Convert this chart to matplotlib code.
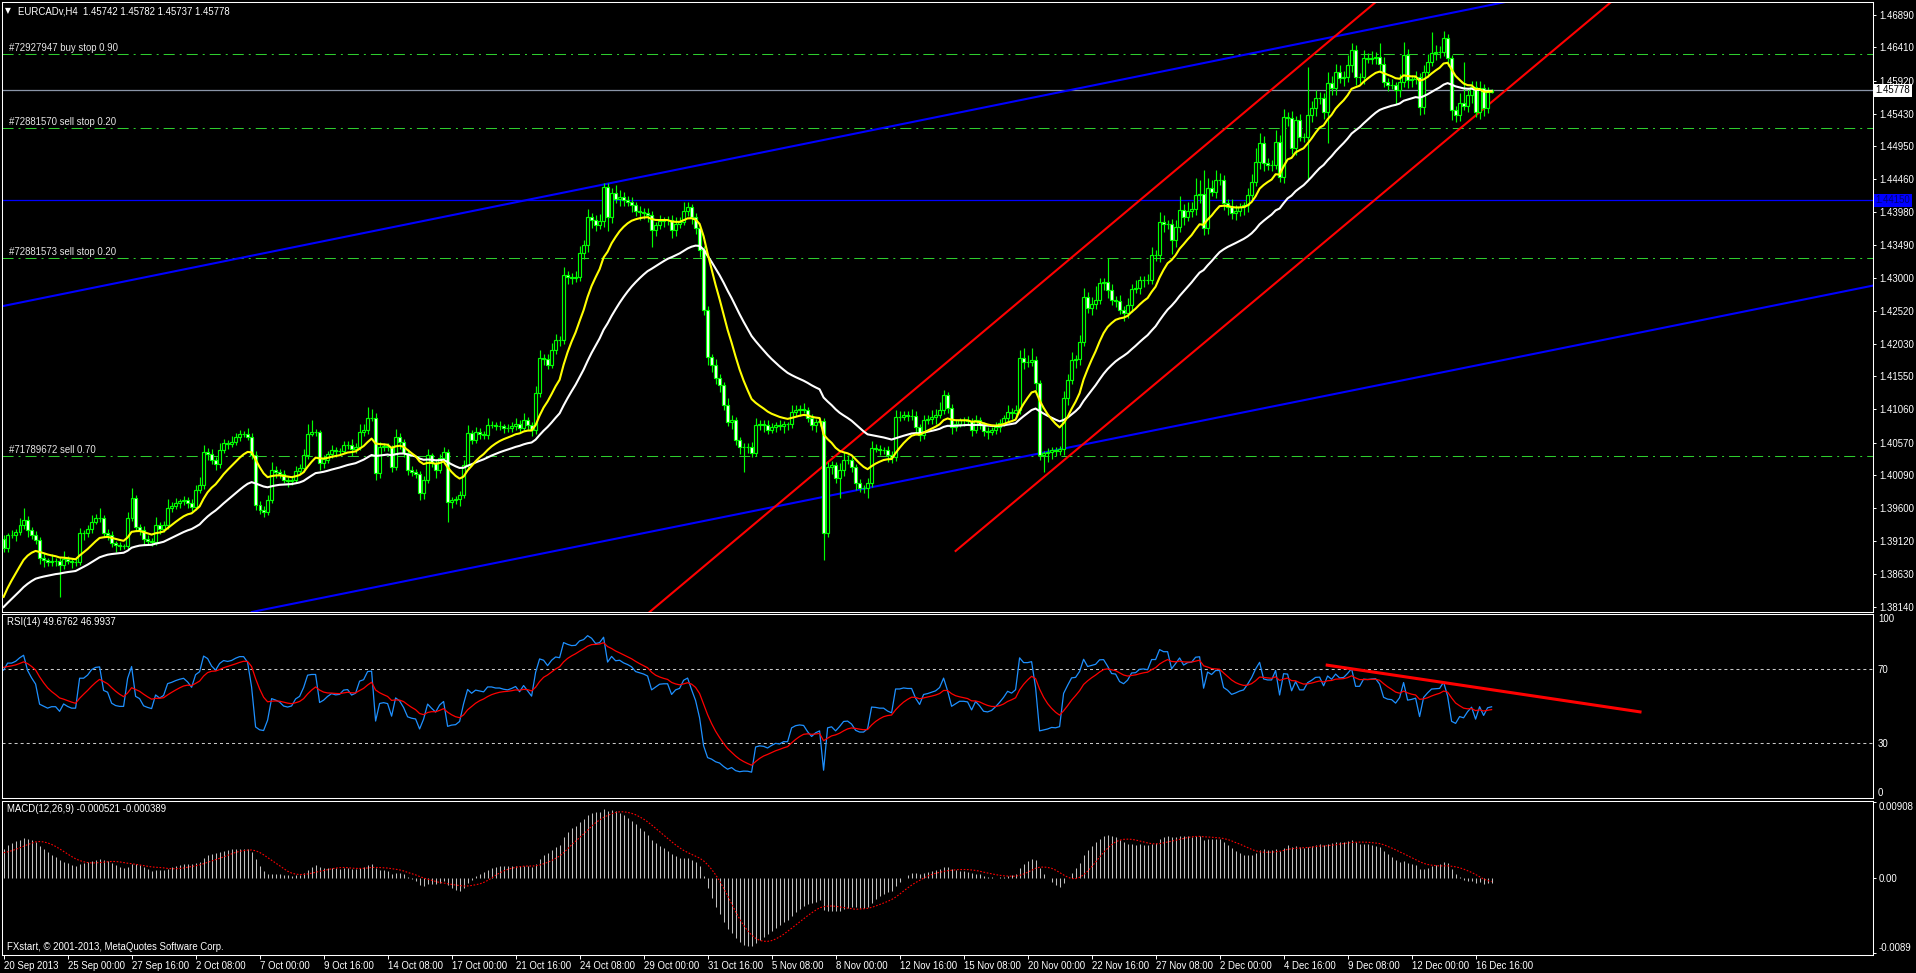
import matplotlib
matplotlib.use("Agg")
import matplotlib.pyplot as plt
import numpy as np

# EURCADv H4, 20 Sep 2013 - 17 Dec 2013
# closes and wicks are in pips above the base price
base_price = 1.38000
first_open_pips = 115

close_pips = [
    101, 120, 120, 125, 135, 143, 128, 120, 113, 86, 83, 80, 82, 82, 76, 85,
    82, 80, 80, 123, 123, 129, 140, 145, 146, 123, 121, 108, 105, 104, 104, 146,
    175, 132, 128, 115, 112, 110, 135, 130, 135, 160, 163, 167, 170, 172, 168, 162,
    187, 194, 243, 240, 231, 226, 246, 256, 255, 258, 265, 270, 270, 265, 239, 165,
    157, 155, 172, 217, 214, 210, 202, 200, 202, 215, 220, 238, 270, 272, 272, 227,
    232, 240, 246, 244, 245, 253, 254, 247, 250, 272, 275, 293, 294, 212, 250, 252,
    250, 221, 265, 258, 242, 217, 213, 211, 182, 202, 238, 227, 217, 234, 243, 169,
    172, 173, 180, 224, 271, 261, 272, 270, 268, 283, 283, 281, 281, 279, 278, 281,
    285, 278, 290, 283, 276, 330, 382, 380, 372, 394, 409, 408, 505, 502, 500, 502,
    537, 549, 590, 586, 578, 585, 635, 590, 626, 617, 620, 615, 612, 608, 600, 598,
    596, 593, 571, 578, 585, 586, 586, 571, 580, 583, 600, 605, 590, 574, 542, 453,
    383, 372, 352, 342, 313, 287, 290, 261, 250, 251, 250, 242, 283, 285, 283, 276,
    280, 283, 281, 284, 284, 302, 305, 306, 305, 293, 283, 287, 289, 123, 221, 224,
    205, 217, 231, 232, 221, 197, 190, 190, 197, 249, 248, 246, 246, 239, 235, 295,
    295, 298, 297, 297, 280, 268, 290, 292, 295, 298, 305, 327, 308, 280, 285, 290,
    290, 289, 276, 290, 283, 274, 273, 275, 280, 286, 293, 302, 300, 305, 382, 376,
    376, 379, 345, 239, 241, 243, 246, 245, 247, 323, 350, 379, 381, 406, 472, 456,
    462, 468, 493, 494, 482, 468, 467, 453, 449, 460, 484, 485, 497, 498, 497, 534,
    534, 583, 580, 580, 556, 576, 601, 590, 600, 602, 623, 625, 574, 633, 628, 645,
    645, 611, 605, 596, 600, 605, 608, 623, 642, 672, 700, 670, 668, 668, 701, 650,
    738, 737, 692, 734, 709, 709, 741, 752, 766, 767, 746, 789, 781, 805, 796, 798,
    815, 837, 797, 797, 825, 824, 826, 827, 817, 790, 786, 785, 778, 790, 830, 793,
    795, 798, 753, 805, 820, 833, 834, 835, 855, 825, 749, 741, 759, 755, 771, 783,
    746, 781, 752, 775, 778,
]

upper_wick = [
    6, 4, 8, 5, 10, 17, 5, 4, 6, 5, 8, 4, 10, 5, 6, 12,
    5, 4, 6, 8, 5, 6, 10, 6, 15, 4, 6, 5, 4, 5, 3, 8,
    15, 5, 4, 6, 5, 4, 12, 5, 6, 14, 6, 8, 4, 6, 5, 5,
    8, 12, 10, 6, 8, 5, 10, 6, 5, 8, 6, 5, 4, 8, 6, 5,
    5, 6, 8, 12, 5, 4, 6, 4, 5, 8, 6, 10, 14, 18, 5, 4,
    6, 5, 8, 5, 4, 6, 5, 8, 6, 12, 10, 17, 12, 6, 8, 5,
    5, 4, 12, 6, 4, 5, 6, 5, 4, 6, 10, 4, 5, 6, 8, 5,
    4, 5, 6, 8, 12, 5, 8, 6, 4, 10, 6, 5, 8, 4, 5, 6,
    8, 5, 10, 5, 4, 10, 12, 6, 8, 10, 8, 5, 12, 6, 5, 8,
    10, 8, 12, 6, 8, 10, 6, 6, 8, 12, 10, 8, 6, 8, 4, 6,
    5, 8, 6, 5, 8, 5, 6, 8, 10, 8, 12, 8, 5, 6, 4, 5,
    6, 5, 8, 6, 5, 10, 8, 5, 4, 6, 5, 8, 10, 6, 5, 8,
    6, 5, 8, 5, 4, 10, 8, 6, 10, 5, 6, 5, 4, 5, 8, 6,
    5, 10, 12, 6, 5, 4, 6, 5, 8, 10, 6, 5, 4, 6, 5, 10,
    8, 6, 5, 10, 6, 4, 8, 6, 10, 8, 12, 8, 5, 6, 5, 4,
    5, 6, 4, 8, 5, 4, 6, 5, 8, 6, 5, 10, 6, 8, 12, 15,
    10, 18, 6, 5, 4, 6, 5, 4, 5, 10, 8, 12, 6, 10, 14, 8,
    10, 20, 8, 6, 36, 10, 5, 8, 6, 10, 8, 12, 6, 5, 8, 12,
    8, 15, 10, 6, 8, 10, 20, 8, 12, 10, 25, 20, 35, 15, 12, 15,
    10, 8, 6, 12, 8, 6, 5, 10, 12, 20, 15, 10, 8, 6, 18, 10,
    12, 8, 10, 6, 8, 5, 71, 10, 12, 8, 6, 15, 10, 12, 10, 8,
    15, 10, 8, 6, 12, 8, 10, 8, 20, 10, 6, 8, 5, 12, 19, 8,
    6, 8, 5, 10, 12, 31, 10, 8, 10, 6, 5, 6, 15, 60, 10, 8,
    8, 10, 6, 8, 1,
]

lower_wick = [
    5, 6, 4, 8, 5, 6, 10, 5, 6, 8, 10, 6, 5, 8, 47, 6,
    5, 8, 6, 4, 10, 5, 6, 4, 5, 6, 8, 5, 10, 6, 5, 4,
    5, 6, 8, 10, 5, 6, 4, 8, 5, 6, 5, 4, 6, 5, 8, 6,
    5, 4, 6, 8, 5, 10, 6, 5, 8, 4, 5, 6, 5, 4, 6, 8,
    6, 8, 5, 4, 10, 6, 5, 8, 6, 5, 4, 6, 5, 4, 6, 10,
    8, 5, 6, 8, 5, 4, 6, 10, 5, 4, 6, 5, 4, 10, 8, 5,
    6, 8, 5, 10, 6, 8, 5, 6, 10, 8, 5, 6, 12, 5, 6, 29,
    8, 6, 10, 5, 4, 6, 5, 8, 6, 5, 4, 6, 5, 8, 6, 5,
    5, 6, 4, 8, 10, 6, 5, 8, 6, 5, 6, 8, 5, 10, 8, 6,
    6, 8, 10, 12, 8, 6, 10, 20, 8, 6, 10, 8, 6, 10, 8, 12,
    8, 10, 25, 8, 6, 10, 8, 12, 8, 6, 5, 8, 10, 8, 10, 8,
    12, 10, 8, 10, 8, 6, 10, 8, 10, 37, 8, 6, 5, 8, 10, 6,
    5, 8, 6, 10, 8, 5, 6, 8, 5, 6, 8, 10, 6, 40, 5, 10,
    8, 30, 10, 6, 8, 10, 6, 8, 15, 6, 5, 8, 6, 10, 8, 5,
    6, 5, 8, 6, 10, 8, 5, 6, 8, 10, 5, 6, 8, 10, 6, 5,
    8, 6, 10, 5, 6, 8, 10, 5, 6, 8, 5, 6, 8, 5, 6, 10,
    8, 6, 10, 8, 25, 12, 10, 8, 6, 8, 10, 6, 12, 10, 6, 8,
    10, 8, 6, 10, 12, 8, 10, 6, 12, 8, 10, 6, 8, 10, 5, 6,
    8, 10, 12, 8, 20, 10, 8, 12, 6, 10, 8, 12, 10, 8, 6, 10,
    8, 10, 12, 8, 10, 8, 12, 10, 8, 6, 10, 12, 8, 10, 6, 8,
    10, 12, 8, 10, 6, 8, 64, 10, 12, 8, 10, 46, 10, 10, 8, 12,
    8, 10, 12, 8, 10, 6, 8, 10, 12, 8, 10, 6, 20, 10, 8, 12,
    10, 8, 12, 10, 8, 6, 10, 8, 6, 12, 15, 10, 8, 6, 10, 12,
    8, 10, 12, 8, 2,
]

time_labels = [
    "20 Sep 2013", "25 Sep 00:00", "27 Sep 16:00", "2 Oct 08:00", "7 Oct 00:00",
    "9 Oct 16:00", "14 Oct 08:00", "17 Oct 00:00", "21 Oct 16:00", "24 Oct 08:00",
    "29 Oct 00:00", "31 Oct 16:00", "5 Nov 08:00", "8 Nov 00:00", "12 Nov 16:00",
    "15 Nov 08:00", "20 Nov 00:00", "22 Nov 16:00", "27 Nov 08:00", "2 Dec 00:00",
    "4 Dec 16:00", "9 Dec 08:00", "12 Dec 00:00", "16 Dec 16:00",
]
bars_per_label = 16

price_ticks = [1.46890, 1.46410, 1.45920, 1.45430, 1.44950, 1.44460, 1.43980,
               1.43490, 1.43000, 1.42520, 1.42030, 1.41550, 1.41060, 1.40570,
               1.40090, 1.39600, 1.39120, 1.38630, 1.38140]

# pending / open orders drawn by the terminal
order_levels = [1.46312, 1.45220, 1.43295, 1.40372]
order_texts = ["#72927947 buy stop 0.90", "#72881570 sell stop 0.20",
               "#72881573 sell stop 0.20", "#71789672 sell 0.70"]
bid_price = 1.45778
blue_level = 1.44150

# trend lines as (bar, price) anchors
blue_upper = [(0.0, 1.42590), (373.6, 1.47060)]
blue_lower = [(129.1, 1.38864), (379.1, 1.41840)]
red_upper = [(161.6, 1.38071), (342.85, 1.47072)]
red_lower = [(238.0, 1.38968), (379.1, 1.45954)]   # ray starting at first anchor
rsi_trend = [(330.9, 72.2), (409.1, 46.8)]

# indicator values at the left edge of the window
fast_start, slow_start = 1.38290, 1.38140     # yellow EMA13, white EMA34
rsi_gain_start, rsi_loss_start = 0.00077, 0.00023
rsi_ma_start = 71.0
macd_fast_start, macd_slow_start = 1.38350, 1.38000
signal_start = 0.0030

header = "EURCADv,H4  1.45742 1.45782 1.45737 1.45778"
rsi_header = "RSI(14) 49.6762 46.9937"
macd_header = "MACD(12,26,9) -0.000521 -0.000389"
footer = "FXstart, \u00a9 2001-2013, MetaQuotes Software Corp."


def ema(values, period, start):
    alpha = 2.0 / (period + 1)
    out = [start]
    for v in values[1:]:
        out.append(out[-1] + alpha * (v - out[-1]))
    return np.array(out)


closes = base_price + np.array(close_pips) / 10000.0
opens = np.r_[base_price + first_open_pips / 10000.0, closes[:-1]]
highs = np.maximum(opens, closes) + np.array(upper_wick) / 10000.0
lows = np.minimum(opens, closes) - np.array(lower_wick) / 10000.0
n = len(closes)
x = np.arange(n)

fast = ema(closes, 13, fast_start)
slow = ema(closes, 34, slow_start)

# RSI(14), Wilder smoothing
changes = closes - opens
gain, loss = rsi_gain_start, rsi_loss_start
rsi = []
for c in changes:
    gain = (gain * 13 + max(c, 0)) / 14
    loss = (loss * 13 + max(-c, 0)) / 14
    rsi.append(100 - 100 / (1 + gain / loss))
rsi = np.array(rsi)
rsi_ma = ema(rsi, 9, rsi_ma_start)

# MACD(12,26,9), signal is a simple average
macd = ema(closes, 12, macd_fast_start) - ema(closes, 26, macd_slow_start)
padded = np.r_[np.full(8, signal_start), macd]
signal = np.convolve(padded, np.ones(9) / 9, mode="valid")

# ---- figure ----
W, H = 1916, 973
plt.rcParams["font.family"] = ["Liberation Sans", "DejaVu Sans"]
fig = plt.figure(figsize=(W / 100, H / 100), dpi=100, facecolor="black")
FS = 6.9
LIME = "#00FF00"


def panel(top, bottom):
    ax = fig.add_axes([2 / W, 1 - bottom / H, 1871 / W, (bottom - top) / H])
    ax.set_facecolor("black")
    for s in ax.spines.values():
        s.set_color("white")
        s.set_linewidth(0.75)
    ax.set_xlim(-0.4, 467.35)
    ax.yaxis.tick_right()
    ax.tick_params(axis="y", colors="white", labelsize=FS, length=2.2, width=0.7, pad=2)
    ax.tick_params(axis="x", bottom=False, labelbottom=False)
    return ax


ax = panel(2, 612)
ax_rsi = panel(614, 798)
ax_macd = panel(801, 955)

# main price panel
ax.set_ylim(1.38066, 1.47082)
ax.set_yticks(price_ticks)
ax.set_yticklabels(["%.5f" % p for p in price_ticks])

for lvl, txt in zip(order_levels, order_texts):
    ax.axhline(lvl, color="#2ECC2E", lw=0.75, ls=(0, (10.6, 4.8, 1.9, 4.8)))
    ax.text(0.0037, lvl + 0.00012, txt, transform=ax.get_yaxis_transform(),
            color="#E6E6E6", fontsize=FS, va="bottom", ha="left")

ax.axhline(blue_level, color="#0000FF", lw=0.9)
ax.axhline(bid_price, color="#8A95A8", lw=0.9)

for (p1, p2) in [blue_upper, blue_lower]:
    ax.axline(p1, p2, color="#0000FF", lw=1.5)
ax.axline(red_upper[0], red_upper[1], color="#FF0000", lw=1.5)
slope = (red_lower[1][1] - red_lower[0][1]) / (red_lower[1][0] - red_lower[0][0])
ax.plot([red_lower[0][0], 470], [red_lower[0][1], red_lower[0][1] + slope * (470 - red_lower[0][0])],
        color="#FF0000", lw=1.5)

# candles: bull body black, bear body white, lime outline
ax.vlines(x, lows, highs, color=LIME, lw=0.85, zorder=3)
body_colors = np.where(closes >= opens, "black", "white")
ax.bar(x, closes - opens, bottom=opens, width=0.55, color=body_colors,
       edgecolor=LIME, linewidth=0.85, zorder=4)

ax.plot(x, slow, color="white", lw=1.5, zorder=5)
ax.plot(x, fast, color="#FFFF00", lw=1.5, zorder=6)

ax.text(1.0015, bid_price, "%.5f" % bid_price, transform=ax.get_yaxis_transform(),
        color="black", fontsize=FS, va="center", ha="left", clip_on=False,
        bbox=dict(boxstyle="square,pad=0.15", fc="white", ec="none"))
ax.text(1.0015, blue_level, "%.5f" % blue_level, transform=ax.get_yaxis_transform(),
        color="#000070", fontsize=FS, va="center", ha="left", clip_on=False,
        bbox=dict(boxstyle="square,pad=0.15", fc="#0000FF", ec="none"))

# RSI panel
ax_rsi.set_ylim(0, 100)
for lvl in (30, 70):
    ax_rsi.axhline(lvl, color="#C8C8C8", lw=0.75, ls=(0, (2.9, 2.9)))
ax_rsi.plot(x, rsi, color="#1E90FF", lw=0.9)
ax_rsi.plot(x, rsi_ma, color="#FF0000", lw=0.9)
ax_rsi.plot([p[0] for p in rsi_trend], [p[1] for p in rsi_trend], color="#FF0000", lw=2.2)
ax_rsi.set_yticks([0, 30, 70, 100])
ax_rsi.set_yticklabels(["0", "30", "70", "100"])
ax_rsi.tick_params(axis="y", length=0, pad=3.5)
rl = ax_rsi.get_yticklabels()
rl[0].set_va("bottom")
rl[3].set_va("top")

# MACD panel
ax_macd.set_ylim(-0.00914, 0.00922)
ax_macd.vlines(x, 0, macd, color="#C0C0C0", lw=0.75)
ax_macd.plot(x, signal, color="#FF0000", lw=0.8, ls=(0, (1.5, 1.5)))
ax_macd.set_yticks([-0.0089, 0.0, 0.00908])
ax_macd.set_yticklabels(["-0.0089", "0.00", "0.00908"])
ml = ax_macd.get_yticklabels()
ml[0].set_va("bottom")
ml[2].set_va("top")

label_bars = np.arange(len(time_labels)) * bars_per_label
ax_macd.set_xticks(label_bars)
ax_macd.set_xticklabels(time_labels)
ax_macd.tick_params(axis="x", bottom=True, labelbottom=True, colors="white",
                    labelsize=FS, length=2.9, width=0.7, pad=1.5)
for t in ax_macd.get_xticklabels():
    t.set_ha("left")

# texts
def px(xp, yp):
    return xp / W, 1 - yp / H

fig.text(*px(5, 11), "\u25bc", color="white", fontsize=5.5, va="center", ha="left",
         family="DejaVu Sans")
fig.text(*px(18, 11), header, color="white", fontsize=FS, va="center", ha="left")
fig.text(*px(7, 622), rsi_header, color="white", fontsize=FS, va="center", ha="left")
fig.text(*px(7, 809), macd_header, color="white", fontsize=FS, va="center", ha="left")
fig.text(*px(7, 947), footer, color="white", fontsize=FS, va="center", ha="left")

fig.savefig("out.png", dpi=100, facecolor="black")
